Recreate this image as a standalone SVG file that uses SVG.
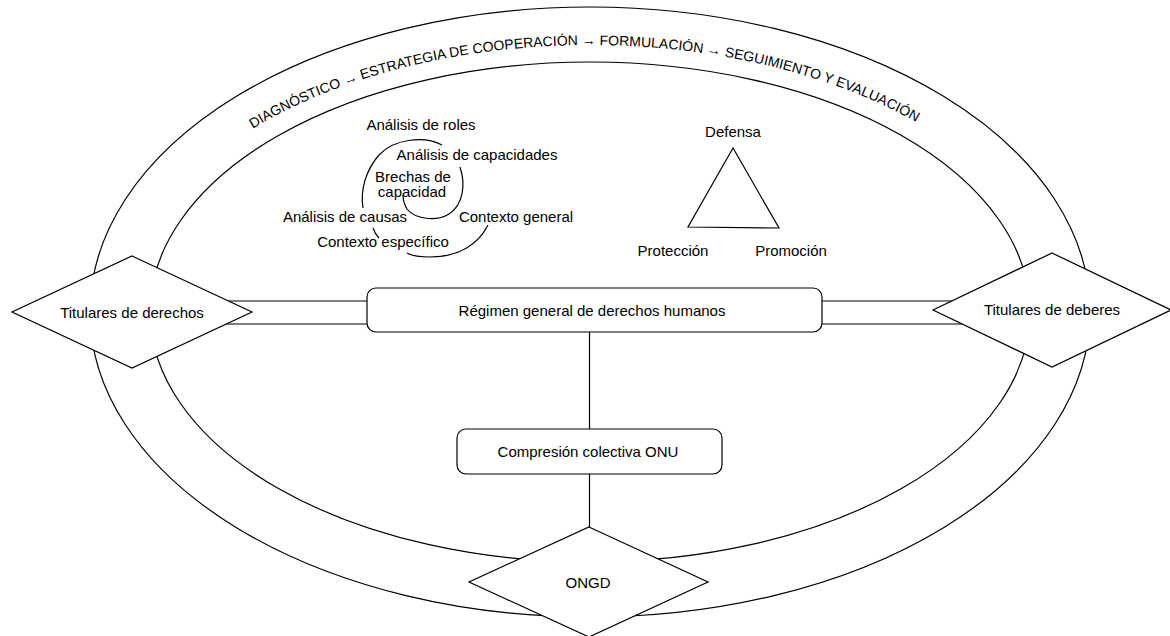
<svg xmlns="http://www.w3.org/2000/svg" width="1170" height="636" viewBox="0 0 1170 636">
<style>
.ln{fill:none;stroke:#000;stroke-width:1.2}
.nd{fill:#fff;stroke:#000;stroke-width:1.2}
.t{font-family:"Liberation Sans",Arial,sans-serif;font-size:15px;fill:#000;text-anchor:middle}
.arc{font-family:"Liberation Sans",Arial,sans-serif;font-size:14px;fill:#000}
</style>
<defs>
<path id="arcPath" d="M126,312 A464,267 0 0 1 1054,312"/>
</defs>
<rect width="1170" height="636" fill="#fff"/>
<g id="cycle">
<ellipse class="ln" cx="590" cy="312" rx="500" ry="305"/>
<ellipse class="ln" cx="590" cy="312" rx="440" ry="250"/>
<text class="arc"><textPath href="#arcPath" startOffset="233">DIAGNÓSTICO → ESTRATEGIA DE COOPERACIÓN → FORMULACIÓN → SEGUIMIENTO Y EVALUACIÓN</textPath></text>
</g>
<g id="spiral">
<path class="ln" d="M442,145 C425,136 395,138 379,155 C366,170 360,190 363,208"/>
<path class="ln" d="M460,167 C466,185 463,205 449,214 C436,222 415,219 407,209 C404,204 403,199 403,195"/>
<path class="ln" d="M373,228 Q375,234 379,238"/>
<path class="ln" d="M488,225 C478,245 458,257 430,257 C420,257 412,256 407,253"/>
<text class="t" x="421" y="130">Análisis de roles</text>
<text class="t" x="477" y="160">Análisis de capacidades</text>
<text class="t" x="413" y="182">Brechas de</text>
<text class="t" x="412" y="197">capacidad</text>
<text class="t" x="345" y="222">Análisis de causas</text>
<text class="t" x="516" y="222">Contexto general</text>
<text class="t" x="383" y="247">Contexto específico</text>
</g>
<g id="triangle">
<polygon class="ln" points="733,148 688,227 779,228"/>
<text class="t" x="733" y="137">Defensa</text>
<text class="t" x="673" y="256">Protección</text>
<text class="t" x="791" y="256">Promoción</text>
</g>
<g id="connectors">
<line class="ln" x1="132" y1="301" x2="367" y2="301"/>
<line class="ln" x1="132" y1="324" x2="367" y2="324"/>
<line class="ln" x1="822" y1="301" x2="1052" y2="301"/>
<line class="ln" x1="822" y1="324" x2="1052" y2="324"/>
<line class="ln" x1="589.5" y1="332" x2="589.5" y2="429"/>
<line class="ln" x1="589.5" y1="474" x2="589.5" y2="527"/>
</g>
<g id="regimen">
<rect class="nd" x="367" y="288" width="455" height="44" rx="9"/>
<text class="t" x="592" y="316">Régimen general de derechos humanos</text>
</g>
<g id="compresion">
<rect class="nd" x="457" y="429" width="265" height="45" rx="9"/>
<text class="t" x="588" y="457">Compresión colectiva ONU</text>
</g>
<g id="titulares-derechos">
<polygon class="nd" points="132,256 252,312 132,368 12,312"/>
<text class="t" x="132" y="318">Titulares de derechos</text>
</g>
<g id="titulares-deberes">
<polygon class="nd" points="1052,253 1171,310 1052,367 933,310"/>
<text class="t" x="1052" y="315">Titulares de deberes</text>
</g>
<g id="ongd">
<polygon class="nd" points="589,527 708,582 589,637 469,582"/>
<text class="t" x="588" y="588">ONGD</text>
</g>
</svg>
